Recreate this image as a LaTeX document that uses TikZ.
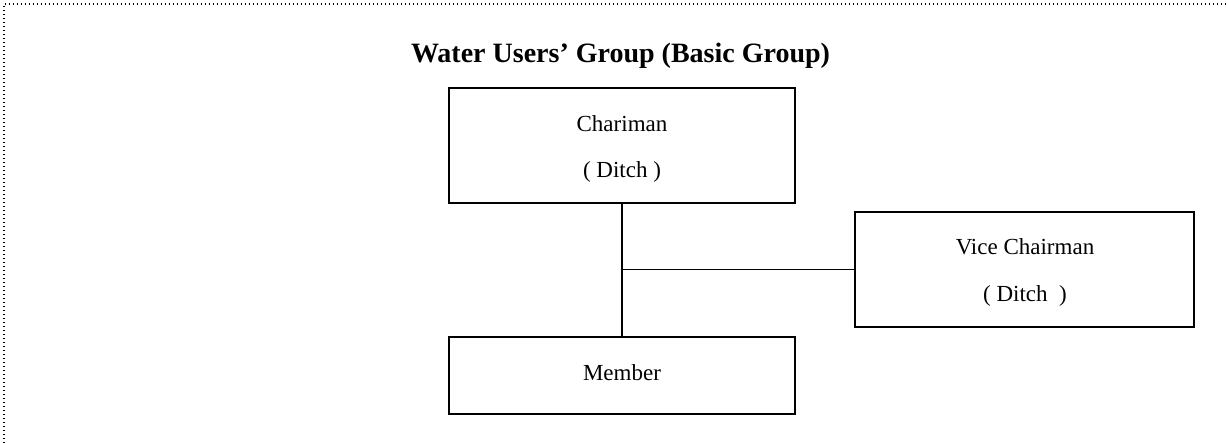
\documentclass[tikz,border=0pt]{standalone}
\usepackage{fontspec}
\setmainfont{Liberation Serif}
\usepackage{tikz}
\tikzstyle{caixa}=[rectangle, draw=black, line width=1.5pt, inner sep=0pt]
\tikzstyle{rotulo}=[anchor=base, inner sep=0pt, font=\fontsize{23}{26}\selectfont]

\begin{document}
\begin{tikzpicture}[x=1pt, y=-1pt, line width=1.3pt]
	\useasboundingbox (0,0) rectangle (1227,443);
	\draw[line width=1.3pt, dash pattern=on 1.3pt off 2.7pt] (4,443) -- (4,4) -- (1227,4);
	\node[anchor=base, inner sep=0pt, font=\fontsize{28}{32}\selectfont\bfseries] (titulo) at (620.5,63) {Water Users’ Group (Basic Group)};
	\node[caixa, minimum width=346, minimum height=115] (chair) at (622,145.5) {};
	\node[caixa, minimum width=339, minimum height=115] (vice) at (1024.5,269.5) {};
	\node[caixa, minimum width=346, minimum height=77] (member) at (622,375.5) {};
	\node[rotulo] (chair1) at (622,132) {Chariman};
	\node[rotulo] (chair2) at (622,178) {( Ditch )};
	\node[rotulo] (vice1) at (1025,255) {Vice Chairman};
	\node[rotulo] (vice2) at (1025,302) {( Ditch\ \ )};
	\node[rotulo] (member1) at (622,381) {Member};
	\coordinate (junc) at (chair.south |- vice.west);
	\draw (chair.south) -- (member.north);
	\draw (junc) -- (vice.west);
\end{tikzpicture}
\end{document}
